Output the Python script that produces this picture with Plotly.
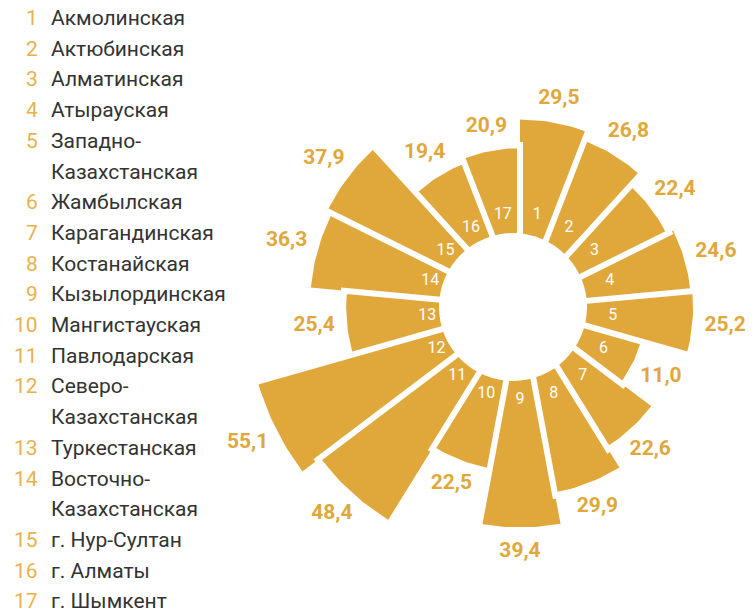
import numpy as np
import plotly.graph_objects as go

regions = ["Акмолинская", "Актюбинская", "Алматинская", "Атырауская",
           "Западно-\nКазахстанская", "Жамбылская", "Карагандинская",
           "Костанайская", "Кызылординская", "Мангистауская", "Павлодарская",
           "Северо-\nКазахстанская", "Туркестанская", "Восточно-\nКазахстанская",
           "г. Нур-Султан", "г. Алматы", "г. Шымкент"]
numbers = [str(i) for i in range(1, 18)]
values = [29.5, 26.8, 22.4, 24.6, 25.2, 11.0, 22.6, 29.9, 39.4,
          22.5, 48.4, 55.1, 25.4, 36.3, 37.9, 19.4, 20.9]

GOLD = "#E0A83B"
LEG_GOLD = "#EAB14B"
OFF = 8                 # page body margin
W, H = 755 - OFF, 612 - OFF
cx, cy = 520 - OFF, 307 - OFF   # centre of the sectors (px)
K = 3.33                # px per axis unit
ZERO = 27.7             # radial offset so that value 0 sits off-centre
INNER = 15              # inner radius of the sectors (hidden by the hole)

n = len(values)
step = 2 * np.pi / n
centers = (np.arange(n) + 0.5) * step

# sectors as closed polygons, clockwise from 12 o'clock
xs, ys = [], []
for i, v in enumerate(values):
    a = np.linspace(i * step, (i + 1) * step, 30)
    r_out = v + ZERO
    xs += list(r_out * np.sin(a)) + list(INNER * np.sin(a[::-1])) + [None]
    ys += list(r_out * np.cos(a)) + list(INNER * np.cos(a[::-1])) + [None]

fig = go.Figure()

fig.add_trace(go.Scatter(
    x=xs, y=ys, mode="lines", fill="toself",
    fillcolor=GOLD, line=dict(color="white", width=6),
    hoverinfo="skip", showlegend=False,
))

# index numbers near the hole
r_num = 28
fig.add_trace(go.Scatter(
    x=r_num * np.sin(centers), y=r_num * np.cos(centers),
    mode="text", text=numbers,
    textfont=dict(size=16, color="white", family="Roboto"),
    hoverinfo="skip", showlegend=False,
))

# value labels outside the bars
pad = 4 + np.sqrt((5.0 * np.sin(centers)) ** 2 + (2.3 * np.cos(centers)) ** 2)
r_lab = np.array(values) + ZERO + pad
fig.add_trace(go.Scatter(
    x=r_lab * np.sin(centers), y=r_lab * np.cos(centers),
    mode="text",
    text=[f"<b>{v:.1f}</b>".replace(".", ",") for v in values],
    textfont=dict(size=21, color=GOLD, family="Roboto"),
    hoverinfo="skip", showlegend=False,
))

# white hole, slightly left of the sector centre
hx, hr = -7 / K, 74 / K
shapes = [dict(type="circle", xref="x", yref="y",
               x0=hx - hr, x1=hx + hr, y0=-hr, y1=hr,
               fillcolor="white", line=dict(width=0), layer="above")]

# left-side list
annotations = []
row = 0
for num, name in zip(numbers, regions):
    y = 1 - (18 - OFF + row * 30.7) / H
    annotations.append(dict(
        x=(39 - OFF) / W, y=y, xref="paper", yref="paper", text=num,
        showarrow=False, xanchor="right", yanchor="middle", borderpad=0,
        font=dict(size=21, color=LEG_GOLD, family="Roboto"),
    ))
    for line in name.split("\n"):
        y = 1 - (18 - OFF + row * 30.7) / H
        annotations.append(dict(
            x=(50 - OFF) / W, y=y, xref="paper", yref="paper", text=line,
            showarrow=False, xanchor="left", yanchor="middle", borderpad=0,
            font=dict(size=21, color="#333333", family="Roboto"),
        ))
        row += 1

fig.update_layout(
    width=W, height=H,
    margin=dict(l=0, r=0, t=0, b=0),
    paper_bgcolor="white",
    plot_bgcolor="white",
    annotations=annotations,
    shapes=shapes,
    xaxis=dict(range=[-cx / K, (W - cx) / K], visible=False, fixedrange=True),
    yaxis=dict(range=[-(H - cy) / K, cy / K], visible=False, fixedrange=True),
)

fig.write_html("out.html")
